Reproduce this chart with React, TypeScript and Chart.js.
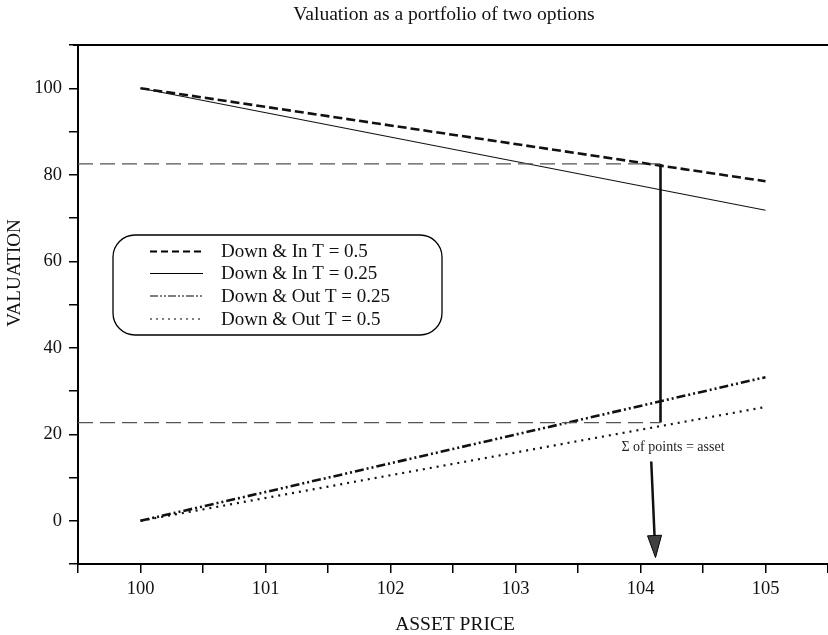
import React, { useEffect, useRef } from 'react';
import { Chart, registerables } from 'chart.js';

Chart.register(...registerables);

// ---- data ----
const assetPrices = [100, 105];
const downInHalf = [100, 78.5];
const downInQuarter = [100, 71.8];
const downOutQuarter = [0, 33.2];
const downOutHalf = [0, 26.3];

const seriesLabels = [
  'Down & In T = 0.5',
  'Down & In T = 0.25',
  'Down & Out T = 0.25',
  'Down & Out T = 0.5',
];

const guidePrices = [99.5, 104.16];
const upperGuide = [82.5, 82.5];
const lowerGuide = [22.7, 22.7];
const markPrices = [104.16, 104.16];
const markValues = [22.7, 82.5];

const arrowFrom = [104.086, 13.7];
const arrowTo = [104.12, -8.5];
const noteAt = [104.26, 16.9];
const noteText = 'Σ of points = asset';

const xRange = [99.5, 105.5];
const yRange = [-10, 110];
const xStep = 0.5;
const yStep = 10;

const titleText = 'Valuation as a portfolio of two options';
const xTitle = 'ASSET PRICE';
const yTitle = 'VALUATION';

const FONT = 'Liberation Serif, Times New Roman, serif';

const seriesStyles = [
  { width: 2.6, dash: [9, 4], legendWidth: 1.8, legendDash: [7, 4] },
  { width: 1.1, dash: [], legendWidth: 1.2, legendDash: [] },
  { width: 2.6, dash: [9, 3, 2, 3, 2, 3], legendWidth: 1.2, legendDash: [8, 2, 2, 2, 2, 2] },
  { width: 2.2, dash: [2, 5], legendWidth: 1.2, legendDash: [2, 4] },
];

const seriesValues = [downInHalf, downInQuarter, downOutQuarter, downOutHalf];

function pts(xs: number[], ys: number[]) {
  return xs.map((x, i) => ({ x, y: ys[i] }));
}

const overlayPlugin = {
  id: 'overlay',
  afterDraw(chart: any) {
    const ctx: CanvasRenderingContext2D = chart.ctx;
    const { chartArea } = chart;
    const xs = chart.scales.x;
    const ys = chart.scales.y;
    ctx.save();

    // top frame line
    ctx.strokeStyle = '#000';
    ctx.lineWidth = 2;
    ctx.setLineDash([]);
    ctx.beginPath();
    ctx.moveTo(chartArea.left - 5, chartArea.top);
    ctx.lineTo(chartArea.right, chartArea.top);
    ctx.stroke();

    // title
    ctx.fillStyle = '#111';
    ctx.textAlign = 'center';
    ctx.textBaseline = 'middle';
    ctx.font = `19.6px ${FONT}`;
    ctx.fillText(titleText, 444, 15);

    // axis titles
    ctx.font = `19.5px ${FONT}`;
    ctx.fillText(xTitle, 455, 625);
    ctx.save();
    ctx.translate(15, 273);
    ctx.rotate(-Math.PI / 2);
    ctx.font = `19px ${FONT}`;
    ctx.fillText(yTitle, 0, 0);
    ctx.restore();

    // legend
    const lx = 113, ly = 235, lw = 329, lh = 100, r = 22;
    ctx.beginPath();
    ctx.moveTo(lx + r, ly);
    ctx.lineTo(lx + lw - r, ly);
    ctx.arcTo(lx + lw, ly, lx + lw, ly + r, r);
    ctx.lineTo(lx + lw, ly + lh - r);
    ctx.arcTo(lx + lw, ly + lh, lx + lw - r, ly + lh, r);
    ctx.lineTo(lx + r, ly + lh);
    ctx.arcTo(lx, ly + lh, lx, ly + lh - r, r);
    ctx.lineTo(lx, ly + r);
    ctx.arcTo(lx, ly, lx + r, ly, r);
    ctx.closePath();
    ctx.fillStyle = '#fff';
    ctx.fill();
    ctx.strokeStyle = '#000';
    ctx.lineWidth = 1.3;
    ctx.stroke();

    const rows = [251.5, 273.5, 296, 319];
    ctx.font = `19px ${FONT}`;
    ctx.textAlign = 'left';
    ctx.textBaseline = 'middle';
    seriesLabels.forEach((lab, i) => {
      const st = seriesStyles[i];
      ctx.strokeStyle = '#000';
      ctx.lineWidth = st.legendWidth;
      ctx.setLineDash(st.legendDash);
      ctx.beginPath();
      ctx.moveTo(150, rows[i]);
      ctx.lineTo(203, rows[i]);
      ctx.stroke();
      ctx.setLineDash([]);
      ctx.fillStyle = '#111';
      ctx.fillText(lab, 221, rows[i] + 1);
    });

    // note text
    ctx.font = `14px ${FONT}`;
    ctx.textAlign = 'center';
    ctx.fillStyle = '#222';
    ctx.fillText(noteText, xs.getPixelForValue(noteAt[0]), ys.getPixelForValue(noteAt[1]));

    // arrow
    const x0 = xs.getPixelForValue(arrowFrom[0]);
    const y0 = ys.getPixelForValue(arrowFrom[1]);
    const x1 = xs.getPixelForValue(arrowTo[0]);
    const y1 = ys.getPixelForValue(arrowTo[1]);
    const ang = Math.atan2(y1 - y0, x1 - x0);
    const headLen = 22, headHalf = 7;
    const bx = x1 - headLen * Math.cos(ang);
    const by = y1 - headLen * Math.sin(ang);
    ctx.strokeStyle = '#111';
    ctx.lineWidth = 2.5;
    ctx.beginPath();
    ctx.moveTo(x0, y0);
    ctx.lineTo(bx, by);
    ctx.stroke();
    ctx.beginPath();
    ctx.moveTo(x1, y1);
    ctx.lineTo(bx + headHalf * Math.sin(ang), by - headHalf * Math.cos(ang));
    ctx.lineTo(bx - headHalf * Math.sin(ang), by + headHalf * Math.cos(ang));
    ctx.closePath();
    ctx.fillStyle = '#404040';
    ctx.fill();
    ctx.lineWidth = 1;
    ctx.strokeStyle = '#000';
    ctx.stroke();

    ctx.restore();
  },
};

export default function App() {
  const ref = useRef<HTMLCanvasElement>(null);

  useEffect(() => {
    if (!ref.current) return;
    const guideBase = {
      borderColor: '#555',
      borderWidth: 1.3,
      borderDash: [15, 7],
      pointRadius: 0,
      fill: false,
      tension: 0,
    };
    const datasets: any[] = [
      { ...guideBase, label: 'upper', data: pts(guidePrices, upperGuide) },
      { ...guideBase, label: 'lower', data: pts(guidePrices, lowerGuide) },
      {
        label: 'mark',
        data: pts(markPrices, markValues),
        borderColor: '#111',
        borderWidth: 2.6,
        pointRadius: 0,
        fill: false,
      },
      ...seriesValues.map((vals, i) => ({
        label: seriesLabels[i],
        data: pts(assetPrices, vals),
        borderColor: '#111',
        borderWidth: seriesStyles[i].width,
        borderDash: seriesStyles[i].dash,
        pointRadius: 0,
        fill: false,
        tension: 0,
      })),
    ];

    const chart = new Chart(ref.current, {
      type: 'line',
      data: { datasets },
      plugins: [overlayPlugin],
      options: {
        animation: false,
        responsive: false,
        devicePixelRatio: 1,
        layout: { padding: { top: 45, left: 0, right: 0, bottom: 0 } },
        plugins: {
          legend: { display: false },
          title: { display: false },
          tooltip: { enabled: false },
        },
        scales: {
          x: {
            type: 'linear',
            min: xRange[0],
            max: xRange[1],
            afterFit: (s: any) => {
              s.height = 71;
              s.paddingLeft = 0;
              s.paddingRight = 0;
            },
            ticks: {
              stepSize: xStep,
              autoSkip: false,
              maxRotation: 0,
              padding: 5,
              color: '#111',
              font: { family: FONT, size: 18.5 },
              callback: (v: any) => (Math.abs(v - Math.round(v)) < 1e-9 ? String(Math.round(v)) : ''),
            },
            grid: {
              drawOnChartArea: false,
              drawTicks: true,
              tickLength: 9,
              color: '#000',
              lineWidth: 1.5,
            },
            border: { display: true, color: '#000', width: 2 },
          },
          y: {
            type: 'linear',
            min: yRange[0],
            max: yRange[1],
            afterFit: (s: any) => {
              s.width = 78;
              s.paddingTop = 0;
              s.paddingBottom = 0;
            },
            ticks: {
              stepSize: yStep,
              autoSkip: false,
              padding: 7,
              color: '#111',
              font: { family: FONT, size: 18.5 },
              callback: (v: any) => (v % 20 === 0 && v >= 0 && v <= 100 ? String(v) : ''),
            },
            grid: {
              drawOnChartArea: false,
              drawTicks: true,
              tickLength: 9,
              color: '#000',
              lineWidth: 1.5,
            },
            border: { display: true, color: '#000', width: 2 },
          },
        },
      } as any,
    });
    return () => chart.destroy();
  }, []);

  return (
    <div style={{ position: 'absolute', left: 0, top: 0, width: 828, height: 635, background: '#fff' }}>
      <canvas ref={ref} width={828} height={635} style={{ display: 'block' }} />
    </div>
  );
}
